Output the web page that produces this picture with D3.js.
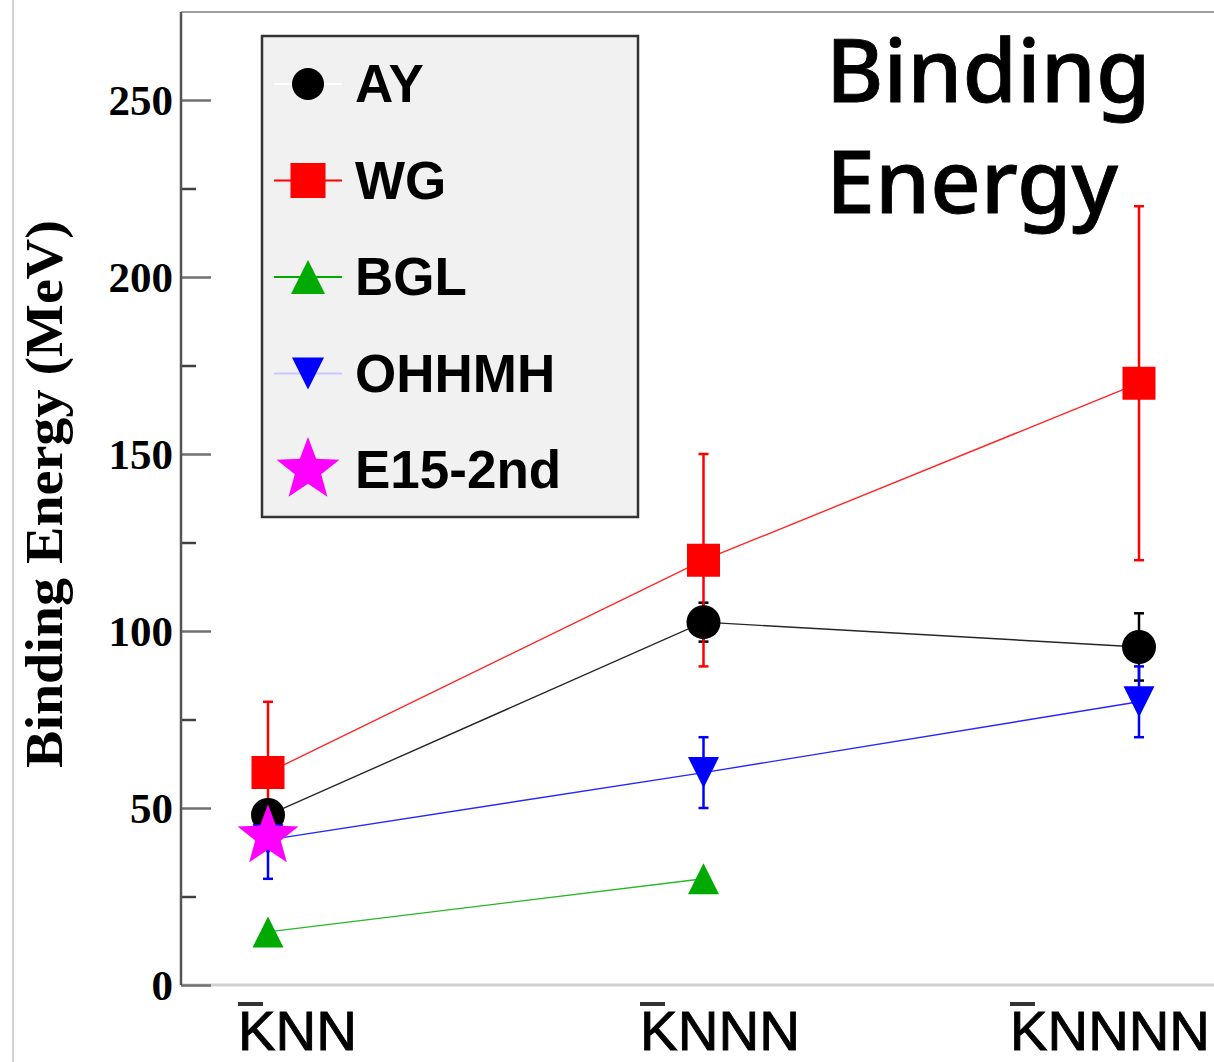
<!DOCTYPE html>
<html><head><meta charset="utf-8">
<script src="https://cdn.jsdelivr.net/npm/d3@7"></script>
<style>html,body{margin:0;padding:0;background:#fff}svg{display:block}</style>
</head><body>
<svg id="c" width="1214" height="1062"></svg>
<script>
// ---- data ----
const categories = ["KNN", "KNNN", "KNNNN"];
const seriesNames = ["AY", "WG", "BGL", "OHHMH", "E15-2nd"];
const AY = [48, 102.5, 95.5];
const AYerr = [0, 5.5, 9.5];
const WG = [60, 120, 170];
const WGerr = [20, 30, 50];
const BGL = [15, 30, null];
const BGLerr = [0, 0, 0];
const OHHMH = [41, 60, 80];
const OHHMHerr = [11, 10, 10];
const E15 = [42, null, null];
const E15err = [0, 0, 0];
const yTicks = [0, 50, 100, 150, 200, 250];
const yMinorTicks = [25, 75, 125, 175, 225];
const yLabel = "Binding Energy (MeV)";
const titleLines = ["Binding", "Energy"];

const series = [
  {name: "AY", values: AY, err: AYerr, color: "#000000", shape: "circle", legendLine: "#ffffff"},
  {name: "WG", values: WG, err: WGerr, color: "#ff0000", shape: "square", legendLine: "#ff0000"},
  {name: "BGL", values: BGL, err: BGLerr, color: "#00aa00", shape: "triangle", legendLine: "#00aa00"},
  {name: "OHHMH", values: OHHMH, err: OHHMHerr, color: "#0000ff", shape: "invtriangle", legendLine: "#c8c8ff"},
  {name: "E15-2nd", values: E15, err: E15err, color: "#ff00ff", shape: "star", legendLine: null}
];

// ---- layout ----
const svg = d3.select("#c");
const x = d3.scalePoint().domain(categories).range([268, 1139]);
const y = d3.scaleLinear().domain([0, 275]).range([985, 11.5]);
const axisX = 181, plotTop = 12, plotBottom = 985;

svg.append("line").attr("x1", 13).attr("x2", 13).attr("y1", 0).attr("y2", 1062)
  .attr("stroke", "#c4c4c4").attr("stroke-width", 1.5);
svg.append("line").attr("x1", axisX).attr("x2", 1214).attr("y1", plotTop).attr("y2", plotTop)
  .attr("stroke", "#a0a0a0").attr("stroke-width", 2);
svg.append("line").attr("x1", axisX).attr("x2", 1214).attr("y1", plotBottom).attr("y2", plotBottom)
  .attr("stroke", "#d0d0d0").attr("stroke-width", 3);

const yAxis = d3.axisRight(y).tickValues(yTicks).tickSize(30).tickFormat("");
const gy = svg.append("g").attr("transform", `translate(${axisX},0)`).call(yAxis);
gy.select(".domain").remove();
gy.selectAll(".tick line").attr("stroke", "#707070").attr("stroke-width", 2.5);
const yAxisMinor = d3.axisRight(y).tickValues(yMinorTicks).tickSize(15).tickFormat("");
const gym = svg.append("g").attr("transform", `translate(${axisX},0)`).call(yAxisMinor);
gym.select(".domain").remove();
gym.selectAll(".tick line").attr("stroke", "#404040").attr("stroke-width", 2.5);
svg.append("line").attr("x1", axisX).attr("x2", axisX).attr("y1", plotTop).attr("y2", plotBottom)
  .attr("stroke", "#555").attr("stroke-width", 2.5);

svg.append("g").selectAll("text").data(yTicks).join("text")
  .attr("x", 173).attr("y", d => y(d)).attr("dy", "0.34em")
  .attr("text-anchor", "end")
  .attr("font-family", "'Liberation Serif', 'Times New Roman', serif")
  .attr("font-weight", "bold").attr("font-size", 43).attr("fill", "#000")
  .text(d => d);

svg.append("text")
  .attr("transform", "translate(62,494) rotate(-90)")
  .attr("text-anchor", "middle")
  .attr("font-family", "'Liberation Serif', 'Times New Roman', serif")
  .attr("font-weight", "bold").attr("font-size", 52)
  .attr("textLength", 548).attr("lengthAdjust", "spacingAndGlyphs")
  .text(yLabel);

// category labels (K with overline)
const catLabelStart = {"KNN": 238, "KNNN": 640, "KNNNN": 1010};
const catLabelWidth = {"KNN": 119, "KNNN": 160, "KNNNN": 200};
const gc = svg.append("g");
categories.forEach(c => {
  gc.append("text").attr("x", catLabelStart[c]).attr("y", 1050)
    .attr("font-family", "'Liberation Sans', Arial, sans-serif")
    .attr("font-size", 56).attr("font-weight", "normal").attr("fill", "#000")
    .attr("stroke", "#000").attr("stroke-width", 0.9)
    .attr("textLength", catLabelWidth[c]).attr("lengthAdjust", "spacingAndGlyphs")
    .text(c);
  gc.append("line").attr("x1", catLabelStart[c]).attr("x2", catLabelStart[c] + 25)
    .attr("y1", 1004).attr("y2", 1004).attr("stroke", "#333").attr("stroke-width", 4);
});

function markerPath(shape, s) {
  if (shape === "circle") return d3.symbol(d3.symbolCircle, Math.PI * (s/2) * (s/2))();
  if (shape === "square") { const h = s/2; return `M${-h},${-h}H${h}V${h}H${-h}Z`; }
  if (shape === "triangle") { const h = s/2; return `M0,${-h}L${h},${h}L${-h},${h}Z`; }
  if (shape === "invtriangle") { const h = s/2; return `M0,${h}L${h},${-h}L${-h},${-h}Z`; }
  if (shape === "star") {
    const R = s, r = s * 0.42; let p = "";
    for (let i = 0; i < 10; i++) {
      const a = -Math.PI/2 + i * Math.PI/5;
      const rr = i % 2 === 0 ? R : r;
      p += (i === 0 ? "M" : "L") + (rr*Math.cos(a)).toFixed(2) + "," + (rr*Math.sin(a)).toFixed(2);
    }
    return p + "Z";
  }
}
const markerSize = {circle: 34, square: 33, triangle: 31, invtriangle: 31, star: 32};

const lineGen = d3.line().defined(d => d.v != null).x(d => x(d.c)).y(d => y(d.v));
const plotG = svg.append("g");
series.forEach(s => {
  const pts = categories.map((c, i) => ({c, v: s.values[i], e: s.err[i]}));
  plotG.append("path").datum(pts).attr("d", lineGen).attr("fill", "none")
    .attr("stroke", s.color).attr("stroke-width", 1.4).attr("stroke-opacity", 0.85);
});
series.forEach(s => {
  const pts = categories.map((c, i) => ({c, v: s.values[i], e: s.err[i]})).filter(d => d.v != null && d.e > 0);
  const g = plotG.append("g").attr("stroke", s.color).attr("stroke-width", 2.5);
  g.selectAll("line.v").data(pts).join("line").attr("class", "v")
    .attr("x1", d => x(d.c)).attr("x2", d => x(d.c))
    .attr("y1", d => y(d.v + d.e)).attr("y2", d => y(d.v - d.e));
  g.selectAll("line.t").data(pts).join("line").attr("class", "t")
    .attr("x1", d => x(d.c) - 5).attr("x2", d => x(d.c) + 5)
    .attr("y1", d => y(d.v + d.e)).attr("y2", d => y(d.v + d.e));
  g.selectAll("line.b").data(pts).join("line").attr("class", "b")
    .attr("x1", d => x(d.c) - 5).attr("x2", d => x(d.c) + 5)
    .attr("y1", d => y(d.v - d.e)).attr("y2", d => y(d.v - d.e));
});
series.forEach(s => {
  const pts = categories.map((c, i) => ({c, v: s.values[i]})).filter(d => d.v != null);
  plotG.append("g").selectAll("path").data(pts).join("path")
    .attr("transform", d => `translate(${x(d.c)},${y(d.v)})`)
    .attr("d", markerPath(s.shape, markerSize[s.shape]))
    .attr("fill", s.color);
});

// legend
const lg = svg.append("g");
lg.append("rect").attr("x", 262).attr("y", 36).attr("width", 376).attr("height", 481)
  .attr("fill", "#f1f1f1").attr("stroke", "#333").attr("stroke-width", 2.5);
const rowY = d3.scalePoint().domain(seriesNames).range([84, 470]);
const legendMarkerSize = {circle: 32, square: 35, triangle: 34, invtriangle: 32, star: 33};
series.forEach(s => {
  const cy = rowY(s.name);
  if (s.legendLine) lg.append("line").attr("x1", 274).attr("x2", 342).attr("y1", cy).attr("y2", cy)
    .attr("stroke", s.legendLine).attr("stroke-width", 2);
  lg.append("path").attr("transform", `translate(308,${cy})`)
    .attr("d", markerPath(s.shape, legendMarkerSize[s.shape])).attr("fill", s.color);
  lg.append("text").attr("x", 355).attr("y", cy + 18)
    .attr("font-family", "'Liberation Sans', Arial, sans-serif")
    .attr("font-weight", "bold").attr("font-size", 53).attr("fill", "#000")
    .text(s.name);
});

// title
svg.append("g").selectAll("text").data(titleLines).join("text")
  .attr("x", 826).attr("y", (d, i) => 102 + i * 111)
  .attr("font-family", "'Noto Sans', Inter, sans-serif")
  .attr("font-weight", 500).attr("font-size", 88).attr("fill", "#000")
  .attr("stroke", "#000").attr("stroke-width", 0.8)
  .text(d => d);
</script>
</body></html>
